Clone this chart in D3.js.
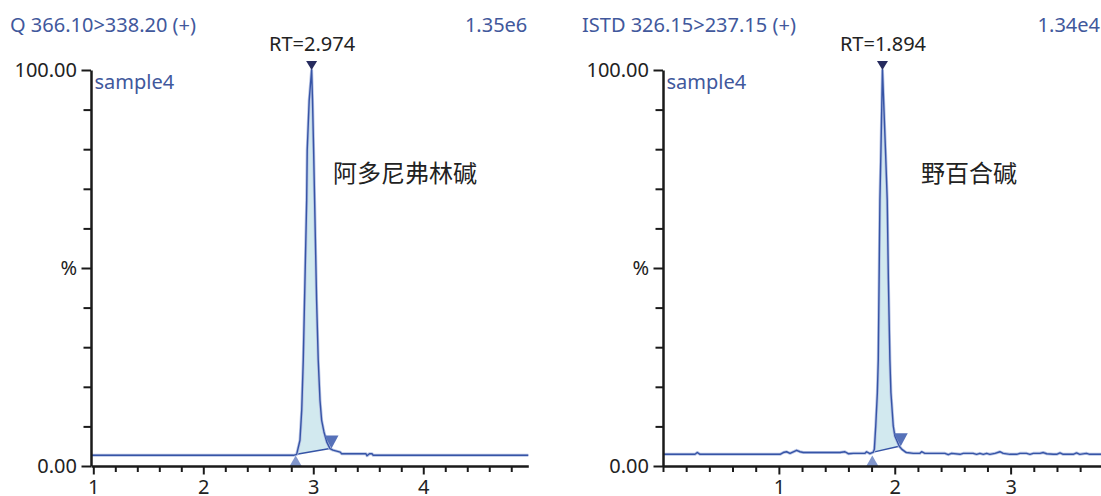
<!DOCTYPE html>
<html>
<head>
<meta charset="utf-8">
<script src="https://cdn.jsdelivr.net/npm/d3@7"></script>
<style>
  body { margin: 0; background: #fff; }
  svg { display: block; font-family: "Noto Sans", sans-serif; }
</style>
</head>
<body>
<div id="chart"></div>
<script>
/* Two chromatogram panels */

// left trace: Q 366.10>338.20
const leftTime = [0.979, 2.82, 2.849, 2.879, 2.895, 2.909, 2.94, 2.945, 2.963, 2.985, 2.993, 3.003, 3.012, 3.03, 3.045, 3.061, 3.076, 3.097, 3.122, 3.152, 3.179, 3.245, 3.258, 3.479, 3.488, 3.511, 3.534, 3.545, 4.955];
const leftPct = [2.7, 2.7, 2.95, 6.5, 14.1, 26.7, 67.1, 79.8, 92.4, 100, 92.4, 79.8, 67.1, 41.9, 26.7, 16.6, 11.5, 8.6, 6.1, 4.4, 4.0, 3.5, 3.1, 3.1, 2.6, 3.1, 3.1, 2.7, 2.7];

// right trace: ISTD 326.15>237.15
const rightTime = [0, 0.276, 0.296, 0.319, 1.01, 1.038, 1.067, 1.096, 1.153, 1.182, 1.211, 1.527, 1.570, 1.599, 1.642, 1.743, 1.757, 1.786, 1.815, 1.824, 1.836, 1.850, 1.858, 1.872, 1.881, 1.894, 1.920, 1.935, 1.945, 1.958, 1.967, 1.987, 2.001, 2.039, 2.062, 2.097, 2.103, 2.16, 2.217, 2.232, 2.26, 2.433, 2.462, 2.49, 2.563, 2.591, 2.677, 2.706, 2.735, 2.764, 2.793, 2.821, 2.865, 2.908, 2.936, 2.994, 3.052, 3.08, 3.138, 3.167, 3.195, 3.253, 3.282, 3.311, 3.368, 3.397, 3.426, 3.454, 3.54, 3.569, 3.597, 3.655, 3.683, 3.78];
const rightPct = [2.95, 2.95, 3.4, 2.95, 2.95, 3.4, 3.6, 3.2, 3.96, 3.6, 3.4, 3.4, 3.6, 3.1, 3.2, 3.2, 3.6, 3.1, 3.5, 4.2, 10.1, 18.5, 26.9, 67.2, 79.8, 100, 79.8, 67.2, 47, 26.9, 18.5, 10.1, 7.6, 5.0, 4.2, 3.45, 3.4, 3.2, 3.2, 3.6, 3.2, 3.2, 2.87, 3.2, 2.95, 3.2, 3.2, 2.95, 3.2, 2.95, 3.2, 2.95, 3.2, 3.6, 3.2, 2.95, 2.95, 3.2, 3.2, 2.95, 3.2, 3.2, 3.4, 3.1, 2.95, 2.95, 3.3, 2.95, 2.95, 3.3, 2.95, 3.2, 2.95, 2.95];

const titles = ["Q 366.10>338.20 (+)", "ISTD 326.15>237.15 (+)"];
const maxLabels = ["1.35e6", "1.34e4"];
const sampleNames = ["sample4", "sample4"];
const compoundNames = ["阿多尼弗林碱", "野百合碱"];
const rtLabels = ["RT=2.974", "RT=1.894"];
const peakStart = [2.849, 1.815];
const peakEnd = [3.152, 2.039];
const xDomains = [[0.979, 4.955], [0, 3.78]];
const xMajorTicks = [[1, 2, 3, 4], [1, 2, 3]];
const yTicks = d3.range(0, 101, 10);

const width = 1101, height = 496;
const blue = "#3654a6", textBlue = "#41589c";

const svg = d3.select("#chart").append("svg")
  .attr("width", width)
  .attr("height", height);

const panels = [
  { time: leftTime, pct: leftPct, left: 91, right: 528.3, titleX: 10, compX: 333 },
  { time: rightTime, pct: rightPct, left: 663, right: 1101, titleX: 582, compX: 921 }
];

const plotTop = 70, plotBottom = 466;

panels.forEach((p, i) => {
  const data = p.time.map((t, k) => ({ t: t, v: p.pct[k] }));

  const x = d3.scaleLinear().domain(xDomains[i]).range([p.left, p.right]);
  const y = d3.scaleLinear().domain([0, 100]).range([plotBottom, plotTop]);

  const g = svg.append("g");

  // integrated peak area
  const s0 = data.find(d => d.t === peakStart[i]);
  const s1 = data.find(d => d.t === peakEnd[i]);
  const base = d3.scaleLinear().domain([s0.t, s1.t]).range([s0.v, s1.v]);
  const peakPts = data.filter(d => d.t >= s0.t && d.t <= s1.t);

  g.append("path")
    .datum(peakPts)
    .attr("fill", "#d2e9ef")
    .attr("d", d3.area().x(d => x(d.t)).y0(d => y(base(d.t))).y1(d => y(d.v)));

  g.append("line")
    .attr("x1", x(s0.t)).attr("y1", y(s0.v))
    .attr("x2", x(s1.t)).attr("y2", y(s1.v))
    .attr("stroke", blue)
    .attr("stroke-width", 1.5);

  // trace (soft halo under a thin line)
  const line = d3.line().x(d => x(d.t)).y(d => y(d.v));
  g.append("path")
    .datum(data)
    .attr("fill", "none")
    .attr("stroke", "#b7c3e4")
    .attr("stroke-width", 3)
    .attr("stroke-linejoin", "round")
    .attr("d", line);
  g.append("path")
    .datum(data)
    .attr("fill", "none")
    .attr("stroke", blue)
    .attr("stroke-width", 1.4)
    .attr("stroke-linejoin", "round")
    .attr("d", line);

  // peak start / end markers
  const sx = x(s0.t) - 1;
  g.append("path")
    .attr("d", `M${sx},${plotBottom - 10.5} l-6,10.5 h12 Z`)
    .attr("fill", "#8196cc");
  const ex = x(s1.t) + 1.5, ey = y(s1.v);
  g.append("path")
    .attr("d", `M${ex},${ey} l-7,-13 h14 Z`)
    .attr("fill", "#5671b9");

  // apex marker + RT label
  const apex = data[d3.greatestIndex(data, d => d.v)];
  const ax = x(apex.t), ay = y(apex.v);
  g.append("path")
    .attr("d", `M${ax},${ay} l-5.5,-9 h11 Z`)
    .attr("fill", "#262b5e");
  g.append("text")
    .attr("x", ax + 0.5)
    .attr("y", 51)
    .attr("text-anchor", "middle")
    .style("font-size", "20px")
    .attr("fill", "#222")
    .text(rtLabels[i]);

  // axes
  const yAxis = g.append("g")
    .attr("transform", `translate(${p.left},0)`)
    .call(d3.axisLeft(y).tickValues(yTicks)
      .tickSize(8).tickPadding(6).tickSizeOuter(0)
      .tickFormat(d => d === 100 ? "100.00" : d === 50 ? "%" : d === 0 ? "0.00" : ""));
  yAxis.select(".domain").attr("stroke-width", 2.5).attr("stroke", "#1a1a1a");
  yAxis.selectAll(".tick line").attr("stroke-width", 2).attr("stroke", "#1a1a1a")
    .attr("x2", d => d % 50 === 0 ? -9.5 : -7.5);
  yAxis.selectAll(".tick text")
    .style("font-size", "20px").style("font-family", "'Noto Sans', sans-serif")
    .attr("fill", "#222");

  const minor = d3.range(Math.ceil(xDomains[i][0] * 5) / 5, xDomains[i][1], 0.2)
    .map(v => Math.round(v * 10) / 10)
    .filter(v => v >= xDomains[i][0] && v < xDomains[i][1] - 0.01 && !xMajorTicks[i].includes(v));

  const xMinor = g.append("g")
    .attr("transform", `translate(0,${plotBottom})`)
    .call(d3.axisBottom(x).tickValues(minor).tickSize(6).tickSizeOuter(0).tickFormat(""));
  xMinor.select(".domain").remove();
  xMinor.selectAll(".tick line").attr("stroke-width", 2).attr("stroke", "#1a1a1a");

  const xAxis = g.append("g")
    .attr("transform", `translate(0,${plotBottom})`)
    .call(d3.axisBottom(x).tickValues(xMajorTicks[i]).tickSize(8.5).tickSizeOuter(0).tickFormat(d3.format("d")));
  xAxis.select(".domain").attr("stroke-width", 2.4).attr("stroke", "#1a1a1a");
  xAxis.selectAll(".tick line").attr("stroke-width", 2).attr("stroke", "#1a1a1a");
  xAxis.selectAll(".tick text")
    .attr("y", 28).attr("dy", null)
    .style("font-size", "20px").style("font-family", "'Noto Sans', sans-serif")
    .attr("fill", "#222");

  // texts
  g.append("text")
    .attr("x", p.titleX).attr("y", 32)
    .style("font-size", "20px").attr("fill", textBlue)
    .text(titles[i]);
  g.append("text")
    .attr("x", p.right - 1).attr("y", 32)
    .attr("text-anchor", "end")
    .style("font-size", "20px").attr("fill", textBlue)
    .text(maxLabels[i]);
  g.append("text")
    .attr("x", p.left + 3.5).attr("y", 89)
    .style("font-size", "20px").attr("fill", textBlue)
    .text(sampleNames[i]);
  g.append("text")
    .attr("x", p.compX).attr("y", 182)
    .style("font-size", "24px").attr("fill", "#222")
    .style("font-family", "'Noto Sans CJK SC', sans-serif")
    .text(compoundNames[i]);
});
</script>
</body>
</html>
